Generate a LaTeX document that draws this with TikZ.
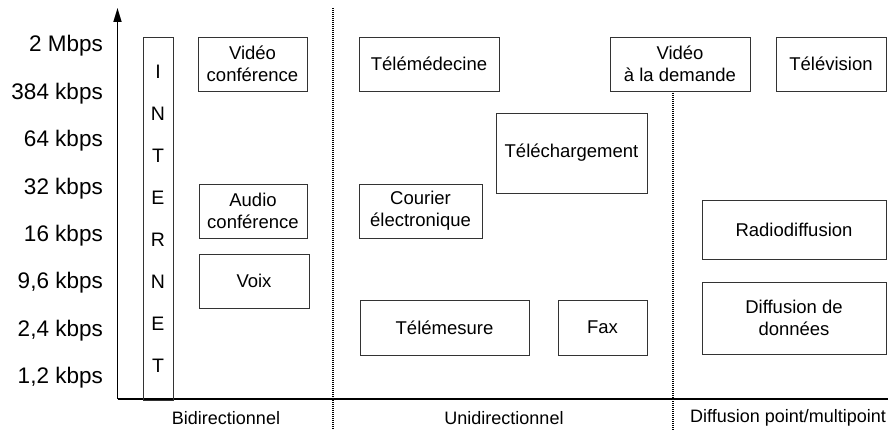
\documentclass[tikz,border=0pt]{standalone}
\usepackage{fontspec}
\setmainfont{Liberation Sans}
\usetikzlibrary{arrows.meta}

\tikzset{
  appbox/.style={draw=black!80, line width=0.8pt, align=center, inner sep=0pt,
    font=\fontsize{18.5}{22}\selectfont},
  ratelabel/.style={anchor=east, inner sep=0pt, font=\fontsize{22.5}{25}\selectfont},
  zonelabel/.style={inner sep=0pt, font=\fontsize{18}{21}\selectfont},
  zoneline/.style={line width=2pt, dash pattern=on 1.2pt off 0.8pt},
}

\begin{document}
\begin{tikzpicture}[x=1pt,y=1pt,yscale=-1]
    \useasboundingbox (0,0) rectangle (888,430);

    %Axes
    \coordinate (origin) at (117.5,399);
    \coordinate (ytop) at (117.5,8);
    \coordinate (xend) at (888,399);
    \draw [line width=1.6pt, -{Triangle[length=14pt,width=8pt]}] (origin) -- (ytop);
    \draw [line width=1.6pt] (origin) -- (xend);

    %Dotted separators
    \coordinate (sepA top) at (333,8);
    \coordinate (sepA bot) at (333,430);
    \coordinate (sepB top) at (673,93);
    \coordinate (sepB bot) at (673,430);
    \draw [zoneline] (sepA top) -- (sepA bot);
    \draw [zoneline] (sepB top) -- (sepB bot);

    % Rate labels
    \foreach \rate [count=\i] in {2 Mbps, 384 kbps, 64 kbps, 32 kbps, 16 kbps, {9,6 kbps}, {2,4 kbps}, {1,2 kbps}}
        \node [ratelabel] (rate\i) at (103,{46+(\i-1)*47.4}) {\rate};

    %Shape: Rectangle -- Internet column
    \node [appbox, minimum width=30pt, minimum height=363pt, font=\fontsize{19.5}{42}\selectfont]
        (internet) at (158,218.5) {I\\N\\T\\E\\R\\N\\E\\T};

    %Shape: Rectangle -- bidirectional
    \node [appbox, minimum width=109pt, minimum height=54pt] (visio) at (252.5,64) {Vidéo\\conférence};
    \node [appbox, minimum width=108pt, minimum height=54pt] (audio) at (253,211) {Audio\\conférence};
    \node [appbox, minimum width=110pt, minimum height=54pt] (voix) at (254,281) {Voix};

    %Shape: Rectangle -- unidirectional
    \node [appbox, minimum width=140pt, minimum height=54pt] (telemed) at (429,64) {Télémédecine};
    \node [appbox, minimum width=151pt, minimum height=80pt] (telechar) at (571.5,153) {Téléchargement};
    \node [appbox, minimum width=123pt, minimum height=54pt] (courrier) at (420.5,211) {Courier\\électronique};
    \node [appbox, minimum width=169pt, minimum height=55pt] (telemes) at (444.5,327.5) {Télémesure};
    \node [appbox, minimum width=89pt, minimum height=55pt] (fax) at (602.5,327.5) {Fax};

    %Shape: Rectangle -- point/multipoint
    \node [appbox, minimum width=140pt, minimum height=54pt] (vod) at (680,64) {Vidéo\\à la demande};
    \node [appbox, minimum width=110pt, minimum height=54pt] (tv) at (831,64) {Télévision};
    \node [appbox, minimum width=184pt, minimum height=59pt] (radio) at (794,229.5) {Radiodiffusion};
    \node [appbox, minimum width=184pt, minimum height=72pt] (donnees) at (794,318) {Diffusion de\\données};

    % Text Node
    \node [zonelabel] (bidir) at (226,418) {Bidirectionnel};
    % Text Node
    \node [zonelabel] (unidir) at (504,418) {Unidirectionnel};
    % Text Node
    \node [zonelabel] (diffus) at (788,418) {Diffusion point/multipoint};

\end{tikzpicture}
\end{document}
